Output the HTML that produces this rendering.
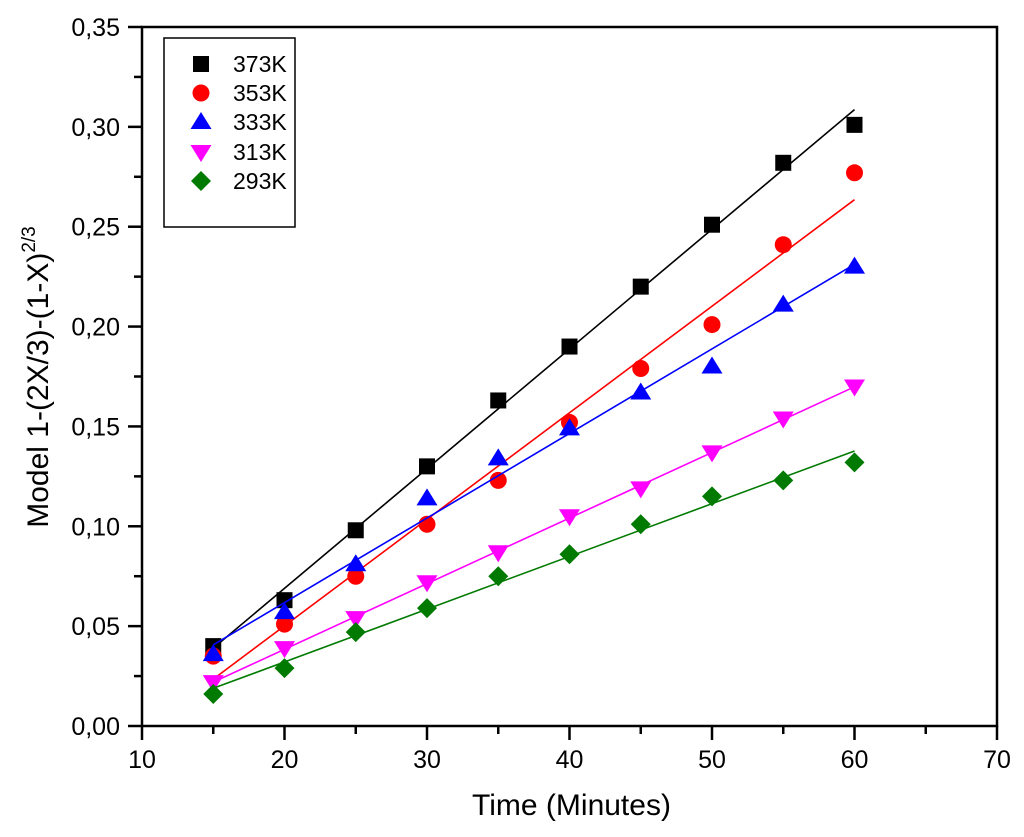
<!DOCTYPE html>
<html><head><meta charset="utf-8"><style>
body{margin:0;background:#fff;}
svg{display:block;font-family:"Liberation Sans",Arial,sans-serif;}
</style></head><body>
<svg id="chart" width="1024" height="837" viewBox="0 0 1024 837"></svg>
<script>
const times = [15,20,25,30,35,40,45,50,55,60];
const seriesNames = ["373K","353K","333K","313K","293K"];
const s373 = [0.040,0.063,0.098,0.130,0.163,0.190,0.220,0.251,0.282,0.301];
const s353 = [0.035,0.051,0.075,0.101,0.123,0.152,0.179,0.201,0.241,0.277];
const s333 = [0.036,0.057,0.081,0.114,0.134,0.149,0.167,0.180,0.211,0.230];
const s313 = [0.022,0.039,0.054,0.072,0.087,0.105,0.119,0.137,0.154,0.170];
const s293 = [0.016,0.029,0.047,0.059,0.075,0.086,0.101,0.115,0.123,0.132];
const xTicks = [10,20,30,40,50,60,70];
const yTicks = [0,0.05,0.10,0.15,0.20,0.25,0.30,0.35];

const NS="http://www.w3.org/2000/svg";
const svg=document.getElementById('chart');
const L=142,R=997,T=27,B=726;
const xs=v=>L+(v-10)/60*(R-L);
const ys=v=>B-v/0.35*(B-T);
function mk(tag,attrs,parent){const e=document.createElementNS(NS,tag);for(const k in attrs)e.setAttribute(k,attrs[k]);(parent||svg).appendChild(e);return e;}

const colors=["#000000","#ff0000","#0000ff","#ff00ff","#007a00"];
const shapes=["square","circle","up","down","diamond"];
const data=[s373,s353,s333,s313,s293];

function marker(shape,cx,cy,color,g){
  let e;
  if(shape==="square") e=mk('rect',{x:cx-8,y:cy-8,width:16,height:16,fill:color},g);
  else if(shape==="circle") e=mk('circle',{cx:cx,cy:cy,r:8.5,fill:color},g);
  else if(shape==="up") e=mk('polygon',{points:`${cx},${cy-10} ${cx+10.5},${cy+7} ${cx-10.5},${cy+7}`,fill:color},g);
  else if(shape==="down") e=mk('polygon',{points:`${cx},${cy+10} ${cx+10.5},${cy-7} ${cx-10.5},${cy-7}`,fill:color},g);
  else e=mk('polygon',{points:`${cx},${cy-10} ${cx+10},${cy} ${cx},${cy+10} ${cx-10},${cy}`,fill:color},g);
  return e;
}

const frame=mk('rect',{x:L,y:T,width:R-L,height:B-T,fill:'none',stroke:'#000','stroke-width':2.5});



const xg=mk('g',{});


for(let v=10;v<=70;v+=5){
  const major=v%10===0;
  mk('line',{x1:xs(v),x2:xs(v),y1:B,y2:B+(major?14:8),stroke:'#000','stroke-width':2.5},xg);
}
xTicks.forEach(v=>{const t=mk('text',{x:xs(v),y:B+42,'text-anchor':'middle','font-size':25},xg);t.textContent=v;
});
const xt=mk('text',{x:(L+R)/2+2,y:815,'text-anchor':'middle','font-size':30});
xt.textContent='Time (Minutes)';



const yg=mk('g',{});


for(let i=0;i<=14;i++){
  const v=i*0.025, major=i%2===0;
  mk('line',{x1:L-(major?14:8),x2:L,y1:ys(v),y2:ys(v),stroke:'#000','stroke-width':2.5},yg);
}
yTicks.forEach(v=>{const t=mk('text',{x:L-22,y:ys(v)+9,'text-anchor':'end','font-size':25},yg);t.textContent=v.toFixed(2).replace('.',',');
});
const yt=mk('text',{transform:'translate(48,377) rotate(-90)','text-anchor':'middle','font-size':30});
yt.innerHTML='Model 1-(2X/3)-(1-X)<tspan dy="-13" font-size="19">2/3</tspan>';



data.forEach((arr,si)=>{
  const g=mk('g',{});
  
  
  const n=times.length;let sx=0,sy=0,sxx=0,sxy=0;
  times.forEach((t,i)=>{sx+=t;sy+=arr[i];sxx+=t*t;sxy+=t*arr[i];});
  const m=(n*sxy-sx*sy)/(n*sxx-sx*sx), b=(sy-m*sx)/n;
  const t0=times[0],t1=times[n-1];
  const ln=mk('line',{x1:xs(t0),y1:ys(m*t0+b),x2:xs(t1),y2:ys(m*t1+b),stroke:colors[si],'stroke-width':1.6},g);
  
  
  times.forEach((t,i)=>{const e=marker(shapes[si],xs(t),ys(arr[i]),colors[si],g);
    
    });
});

const lg=mk('g',{});


mk('rect',{x:164,y:38,width:131,height:189,fill:'#fff',stroke:'#000','stroke-width':1.5},lg);
const rowsY=[64,93,122,152,181];
seriesNames.forEach((nm,i)=>{
  const eg=mk('g',{},lg);
  
  
  marker(shapes[i],201,rowsY[i],colors[i],eg);
  const t=mk('text',{x:233,y:rowsY[i]+8,'font-size':23},eg);t.textContent=nm;
});
</script>
</body></html>
